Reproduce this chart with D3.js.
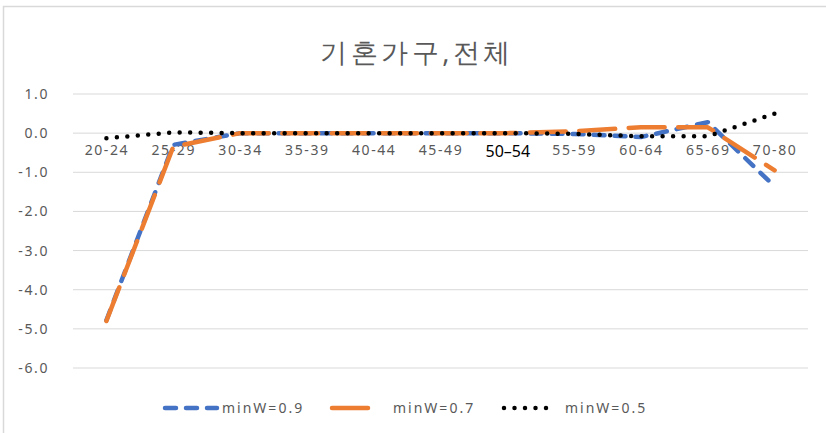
<!DOCTYPE html>
<html>
<head>
<meta charset="utf-8">
<script src="https://cdn.jsdelivr.net/npm/d3@7"></script>
<style>
  html, body { margin: 0; padding: 0; background: #fff; }
  svg text { font-family: "Noto Sans", "Open Sans", sans-serif; }
</style>
</head>
<body>
<svg id="chart" width="826" height="433"></svg>
<script>
// Age groups along the x axis
const categories = ["20-24", "25-29", "30-34", "35-39", "40-44", "45-49", "50\u201354", "55-59", "60-64", "65-69", "70-80"];

// One series per minimum-weight threshold
const minW09 = [-4.78, -0.30, 0.00, 0.00, 0.00, 0.00, 0.00, -0.02, -0.10, 0.28, -1.36];
const minW07 = [-4.80, -0.35, 0.00, 0.00, 0.00, 0.00, 0.00, 0.05, 0.15, 0.15, -0.95];
const minW05 = [-0.13, 0.02, 0.00, 0.00, 0.00, 0.00, 0.00, -0.02, -0.08, -0.08, 0.50];

const yTicks = [1, 0, -1, -2, -3, -4, -5, -6];
const seriesNames = ["minW=0.9", "minW=0.7", "minW=0.5"];
const title = "기혼가구,전체";

const svg = d3.select("#chart");
const W = 826, H = 433;
const plot = { left: 73, right: 808, top: 94, bottom: 368 };

// Chart frame
svg.append("rect")
  .attr("x", 3.5).attr("y", 6.5)
  .attr("width", W + 10).attr("height", H + 10)
  .attr("fill", "#fff")
  .attr("stroke", "#d9d9d9").attr("stroke-width", 1.5);

const x = d3.scalePoint().domain(categories).range([plot.left, plot.right]).padding(0.5);
const y = d3.scaleLinear().domain([-6, 1]).range([plot.bottom, plot.top]);

// Horizontal gridlines
svg.append("g").selectAll("line").data(yTicks).join("line")
  .attr("x1", plot.left).attr("x2", plot.right)
  .attr("y1", d => y(d)).attr("y2", d => y(d))
  .attr("stroke", "#d9d9d9").attr("stroke-width", 1);

// Y axis labels (plain hyphen for negatives)
const yAxis = d3.axisLeft(y).tickValues(yTicks).tickFormat(d => d.toFixed(1)).tickSize(0).tickPadding(0);
const gy = svg.append("g").attr("transform", `translate(49,0)`).call(yAxis);
gy.select(".domain").remove();
gy.selectAll("text")
  .attr("font-size", 14).attr("fill", "#595959")
  .attr("letter-spacing", "1.6px")
  .attr("font-family", "'Noto Sans', sans-serif");

// Category labels sit just under the zero line
const special = "50\u201354";
const xAxis = d3.axisBottom(x).tickSize(0).tickPadding(0);
const gx = svg.append("g").attr("transform", `translate(0,${y(0) + 12})`).call(xAxis);
gx.select(".domain").remove();
gx.selectAll("text")
  .attr("font-size", d => d === special ? 16 : 14)
  .attr("fill", d => d === special ? "#000" : "#595959")
  .attr("letter-spacing", d => d === special ? "0px" : "1.6px")
  .attr("font-family", d => d === special ? "'Liberation Sans', Arial, sans-serif" : "'Noto Sans', sans-serif");

// Title
svg.append("text")
  .attr("x", 417).attr("y", 62)
  .attr("text-anchor", "middle")
  .attr("font-family", "'Noto Sans CJK KR', sans-serif")
  .attr("font-size", 27)
  .attr("letter-spacing", "3.5px")
  .attr("fill", "#595959")
  .text(title);

const styles = [
  { data: minW09, color: "#4472c4", width: 4.5, dash: "11 10" },
  { data: minW07, color: "#ed7d31", width: 4.5, dash: "36 13.5" },
  { data: minW05, color: "#000000", width: 4.5, dash: "0 10.5" }
];

const line = d3.line().x((d, i) => x(categories[i])).y(d => y(d));

svg.append("g").selectAll("path").data(styles).join("path")
  .attr("d", s => line(s.data))
  .attr("fill", "none")
  .attr("stroke", s => s.color)
  .attr("stroke-width", s => s.width)
  .attr("stroke-dasharray", s => s.dash)
  .attr("stroke-linecap", "round")
  .attr("stroke-linejoin", "round");

// Legend
const legendItems = [
  { x1: 165, x2: 217, tx: 222 },
  { x1: 332, x2: 371, tx: 393 },
  { x1: 504, x2: 556, tx: 565 }
];
const lg = svg.append("g");
legendItems.forEach((it, i) => {
  lg.append("line")
    .attr("x1", it.x1).attr("x2", it.x2).attr("y1", 408).attr("y2", 408)
    .attr("stroke", styles[i].color)
    .attr("stroke-width", styles[i].width)
    .attr("stroke-dasharray", styles[i].dash)
    .attr("stroke-linecap", "round");
  lg.append("text")
    .attr("x", it.tx).attr("y", 413)
    .attr("font-size", 14).attr("fill", "#595959")
    .attr("letter-spacing", "2px")
    .text(seriesNames[i]);
});
</script>
</body>
</html>
